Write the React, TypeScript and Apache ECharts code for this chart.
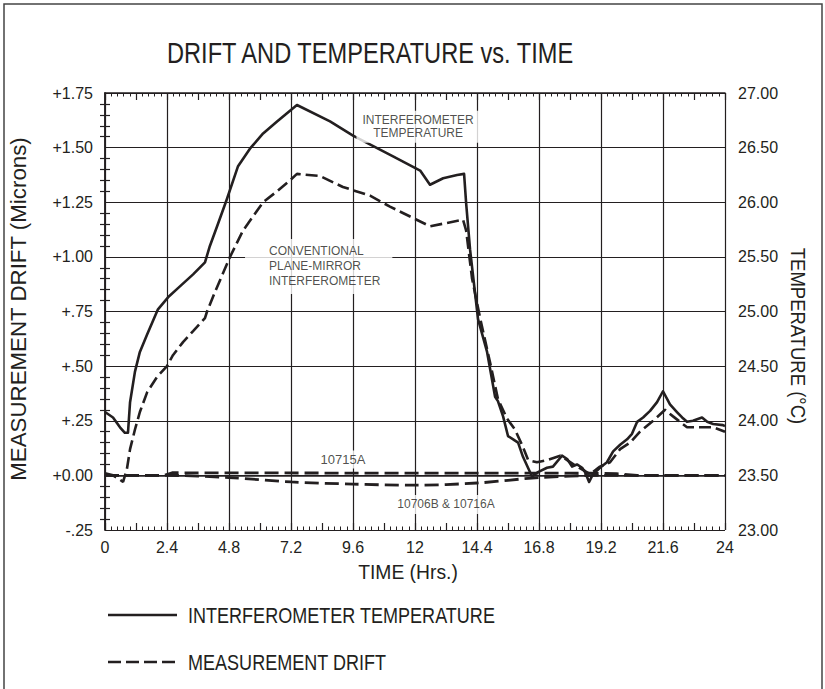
import React, { useEffect, useRef } from 'react';
import * as echarts from 'echarts';

// ---------- tick labels ----------
const xTickLabels = ['0', '2.4', '4.8', '7.2', '9.6', '12', '14.4', '16.8', '19.2', '21.6', '24'];
const driftTickLabels = ['-.25', '+0.00', '+.25', '+.50', '+.75', '+1.00', '+1.25', '+1.50', '+1.75'];
const tempTickLabels = ['23.00', '23.50', '24.00', '24.50', '25.00', '25.50', '26.00', '26.50', '27.00'];

// ---------- interferometer temperature (°C) ----------
const tempHours = [0, 0.31, 0.58, 0.77, 0.89, 0.97, 1.16, 1.35, 1.63, 2.05, 2.44, 2.9, 3.41, 3.87, 4.06, 4.34, 4.72, 5.15, 5.61, 6.12, 6.66, 7.43, 8.71, 9.6, 11.15, 12.2, 12.58, 13.09, 13.63, 13.9, 13.98, 14.13, 14.44, 14.79, 15.1, 15.21, 15.41, 15.6, 15.8, 15.99, 16.18, 16.53, 16.76, 17.11, 17.34, 17.69, 17.89, 18.08, 18.27, 18.47, 18.58, 18.74, 18.89, 19.16, 19.43, 19.67, 19.94, 20.21, 20.4, 20.6, 20.83, 21.1, 21.37, 21.6, 21.87, 22.14, 22.34, 22.53, 22.76, 23.11, 23.31, 23.54, 23.92, 24];
const tempValues = [24.08, 24.03, 23.94, 23.89, 23.89, 24.17, 24.45, 24.63, 24.79, 25.02, 25.13, 25.23, 25.34, 25.45, 25.6, 25.78, 26.03, 26.33, 26.49, 26.63, 26.74, 26.89, 26.74, 26.61, 26.42, 26.29, 26.16, 26.22, 26.25, 26.26, 25.99, 25.57, 24.93, 24.63, 24.22, 24.18, 24.04, 23.86, 23.83, 23.8, 23.67, 23.49, 23.53, 23.57, 23.58, 23.68, 23.65, 23.58, 23.6, 23.57, 23.53, 23.44, 23.51, 23.57, 23.62, 23.72, 23.78, 23.83, 23.88, 23.99, 24.03, 24.09, 24.17, 24.27, 24.15, 24.08, 24.03, 23.99, 24.0, 24.03, 23.99, 23.97, 23.96, 23.95];

// ---------- conventional plane-mirror interferometer drift (microns) ----------
const driftHours = [0, 0.31, 0.58, 0.7, 0.85, 0.97, 1.16, 1.35, 1.63, 2.01, 2.4, 2.63, 3.02, 3.41, 3.87, 3.95, 4.26, 4.84, 5.34, 6.12, 6.66, 7.16, 7.43, 8.32, 9.21, 10.26, 11.03, 12.58, 13.86, 13.98, 14.21, 14.52, 14.9, 15.21, 15.56, 15.87, 16.18, 16.38, 16.72, 17.11, 17.62, 17.89, 18.27, 18.58, 18.78, 19.16, 19.55, 19.94, 20.33, 20.71, 21.22, 21.68, 21.99, 22.53, 23.03, 23.54, 24];
const driftValues = [0.01, 0, -0.02, -0.03, 0.03, 0.12, 0.21, 0.29, 0.38, 0.45, 0.5, 0.55, 0.61, 0.66, 0.72, 0.75, 0.84, 1.0, 1.12, 1.25, 1.3, 1.35, 1.38, 1.37, 1.32, 1.28, 1.23, 1.14, 1.17, 1.12, 0.9, 0.72, 0.52, 0.35, 0.26, 0.21, 0.13, 0.07, 0.06, 0.07, 0.09, 0.07, 0.04, 0.02, 0.005, 0.04, 0.06, 0.12, 0.15, 0.2, 0.25, 0.3, 0.27, 0.22, 0.22, 0.22, 0.2];

// ---------- 10715A drift ----------
const hp10715Hours = [0, 2.3, 2.6, 12, 18.8, 19.8, 20.6, 24];
const hp10715Drift = [0, 0, 0.012, 0.01, 0.01, 0.008, 0, 0];

// ---------- 10706B & 10716A drift ----------
const hp10706Hours = [0, 2.4, 4.8, 7.2, 9.6, 12, 14.4, 16.8, 19.2, 24];
const hp10706Drift = [0, 0, -0.01, -0.03, -0.04, -0.045, -0.035, -0.01, 0, 0];

// ---------- annotations (anchored in data space: hours, microns) ----------
const annotationTexts = ['INTERFEROMETER\nTEMPERATURE', 'CONVENTIONAL\nPLANE-MIRROR\nINTERFEROMETER', '10715A', '10706B & 10716A'];
const annotationHours = [12.12, 5.42, 9.21, 13.2];
const annotationDrift = [1.596, 0.956, 0.073, -0.133];

const INK = '#231f20';
const FONT = "'Liberation Sans', Arial, sans-serif";

const zip = (a: number[], b: number[]) => a.map((v, i) => [v, b[i]]);

const annotationLabelStyles: any[] = [
  { align: 'center', verticalAlign: 'middle', fontSize: 12, lineHeight: 13, padding: [3, 6, 3, 6] },
  { align: 'left', verticalAlign: 'middle', fontSize: 12, lineHeight: 15, padding: [5, 12, 5, 24] },
  { align: 'center', verticalAlign: 'middle', fontSize: 13, lineHeight: 14, padding: [2, 3, 2, 3] },
  { align: 'center', verticalAlign: 'middle', fontSize: 12, lineHeight: 13, padding: [3, 4, 3, 4] },
];

export default function App() {
  const ref = useRef<HTMLDivElement>(null);

  useEffect(() => {
    if (!ref.current) return;
    const chart = echarts.init(ref.current, undefined, { renderer: 'svg' });

    const tickLine = { color: INK, width: 1.2 };
    const frameLine = { color: INK, width: 1.5 };

    const option: any = {
      animation: false,
      backgroundColor: '#ffffff',
      grid: { left: 105, top: 93, width: 620, height: 437, containLabel: false },
      xAxis: [
        {
          type: 'value', min: 0, max: 24, interval: 2.4, position: 'bottom',
          axisLine: { show: true, lineStyle: frameLine },
          axisTick: { show: false },
          minorTick: { show: false },
          axisLabel: {
            margin: 9, fontSize: 16, color: INK, fontFamily: FONT,
            formatter: (v: number) => xTickLabels[Math.round(v / 2.4)],
          },
          splitLine: { show: true, lineStyle: tickLine },
        },
        {
          type: 'value', min: 0, max: 24, interval: 1.2, position: 'bottom',
          axisLine: { show: false },
          axisTick: { show: true, inside: true, length: 7, lineStyle: tickLine },
          minorTick: { show: true, splitNumber: 5, length: 3.5, lineStyle: { color: INK, width: 1 } },
          axisLabel: { show: false },
          splitLine: { show: false },
        },
        {
          type: 'value', min: 0, max: 24, interval: 1.2, position: 'top',
          axisLine: { show: true, lineStyle: frameLine },
          axisTick: { show: true, inside: true, length: 7, lineStyle: tickLine },
          minorTick: { show: true, splitNumber: 5, length: 3.5, lineStyle: { color: INK, width: 1 } },
          axisLabel: { show: false },
          splitLine: { show: false },
        },
      ],
      yAxis: [
        {
          type: 'value', min: -0.25, max: 1.75, interval: 0.25, position: 'left',
          axisLine: { show: true, lineStyle: frameLine },
          axisTick: { show: false, inside: true },
          minorTick: { show: true, splitNumber: 5, length: 5, lineStyle: { color: INK, width: 1.2 } },
          axisLabel: {
            margin: 12, fontSize: 16, color: INK, fontFamily: FONT,
            formatter: (v: number) => driftTickLabels[Math.round((v + 0.25) / 0.25)],
          },
          splitLine: { show: true, lineStyle: tickLine },
        },
        {
          type: 'value', min: 23, max: 27, interval: 0.5, position: 'right',
          axisLine: { show: true, lineStyle: frameLine },
          axisTick: { show: false, inside: true },
          minorTick: { show: true, splitNumber: 5, length: 5, lineStyle: { color: INK, width: 1.2 } },
          axisLabel: {
            margin: 13, fontSize: 16, color: INK, fontFamily: FONT,
            formatter: (v: number) => tempTickLabels[Math.round((v - 23) / 0.5)],
          },
          splitLine: { show: false },
        },
      ],
      series: [
        {
          name: 'INTERFEROMETER TEMPERATURE', type: 'line', xAxisIndex: 0, yAxisIndex: 1,
          data: zip(tempHours, tempValues), symbol: 'none', z: 4,
          lineStyle: { color: INK, width: 2.6, join: 'round' },
        },
        {
          name: 'MEASUREMENT DRIFT', type: 'line', xAxisIndex: 0, yAxisIndex: 0,
          data: zip(driftHours, driftValues), symbol: 'none', z: 4,
          lineStyle: { color: INK, width: 2.6, type: [12, 5] },
        },
        {
          name: '10715A', type: 'line', xAxisIndex: 0, yAxisIndex: 0,
          data: zip(hp10715Hours, hp10715Drift), symbol: 'none', z: 3,
          lineStyle: { color: INK, width: 2.8, type: [14, 6] },
        },
        {
          name: '10706B & 10716A', type: 'line', xAxisIndex: 0, yAxisIndex: 0,
          data: zip(hp10706Hours, hp10706Drift), symbol: 'none', z: 3, smooth: 0.3,
          lineStyle: { color: INK, width: 2.8, type: [14, 6] },
        },
        {
          name: 'annotations', type: 'scatter', xAxisIndex: 0, yAxisIndex: 0,
          symbolSize: 1, silent: true, z: 5,
          itemStyle: { color: 'rgba(0,0,0,0)' },
          data: annotationTexts.map((t, i) => ({
            value: [annotationHours[i], annotationDrift[i]],
            label: annotationLabelStyles[i],
          })),
          label: {
            show: true, position: 'inside', color: INK, fontFamily: FONT,
            backgroundColor: '#ffffff',
            formatter: (p: any) => annotationTexts[p.dataIndex],
          },
        },
      ],
      graphic: [
        {
          type: 'rect', silent: true, z: 100,
          shape: { x: 4, y: 4, width: 818, height: 700 },
          style: { fill: 'none', stroke: '#444', lineWidth: 1.5 },
        },
        {
          type: 'text', x: 167, y: 53, scaleX: 0.82, z: 100,
          style: { text: 'DRIFT AND TEMPERATURE vs. TIME', fill: INK, fontFamily: FONT, fontSize: 28.8, textAlign: 'left', textVerticalAlign: 'middle' },
        },
        {
          type: 'text', x: 18, y: 309, rotation: Math.PI / 2, scaleX: 0.97, z: 100,
          style: { text: 'MEASUREMENT DRIFT (Microns)', fill: INK, fontFamily: FONT, fontSize: 23, textAlign: 'center', textVerticalAlign: 'middle' },
        },
        {
          type: 'text', x: 798, y: 336, rotation: -Math.PI / 2, scaleX: 0.88, z: 100,
          style: { text: 'TEMPERATURE (°C)', fill: INK, fontFamily: FONT, fontSize: 21, textAlign: 'center', textVerticalAlign: 'middle' },
        },
        {
          type: 'text', x: 408, y: 572, scaleX: 0.92, z: 100,
          style: { text: 'TIME (Hrs.)', fill: INK, fontFamily: FONT, fontSize: 21, textAlign: 'center', textVerticalAlign: 'middle' },
        },
        {
          type: 'line', z: 100,
          shape: { x1: 108, y1: 615, x2: 177, y2: 615 },
          style: { stroke: INK, lineWidth: 2.6 },
        },
        {
          type: 'text', x: 188, y: 615, scaleX: 0.82, z: 100,
          style: { text: 'INTERFEROMETER TEMPERATURE', fill: INK, fontFamily: FONT, fontSize: 22, textAlign: 'left', textVerticalAlign: 'middle' },
        },
        {
          type: 'line', z: 100,
          shape: { x1: 108, y1: 662, x2: 177, y2: 662 },
          style: { stroke: INK, lineWidth: 2.6, lineDash: [13, 5] },
        },
        {
          type: 'text', x: 188, y: 662, scaleX: 0.82, z: 100,
          style: { text: 'MEASUREMENT DRIFT', fill: INK, fontFamily: FONT, fontSize: 22, textAlign: 'left', textVerticalAlign: 'middle' },
        },
      ],
    };

    chart.setOption(option);
    return () => chart.dispose();
  }, []);

  return (
    <div
      ref={ref}
      style={{ position: 'absolute', left: 0, top: 0, width: 825, height: 689, background: '#fff' }}
    />
  );
}
